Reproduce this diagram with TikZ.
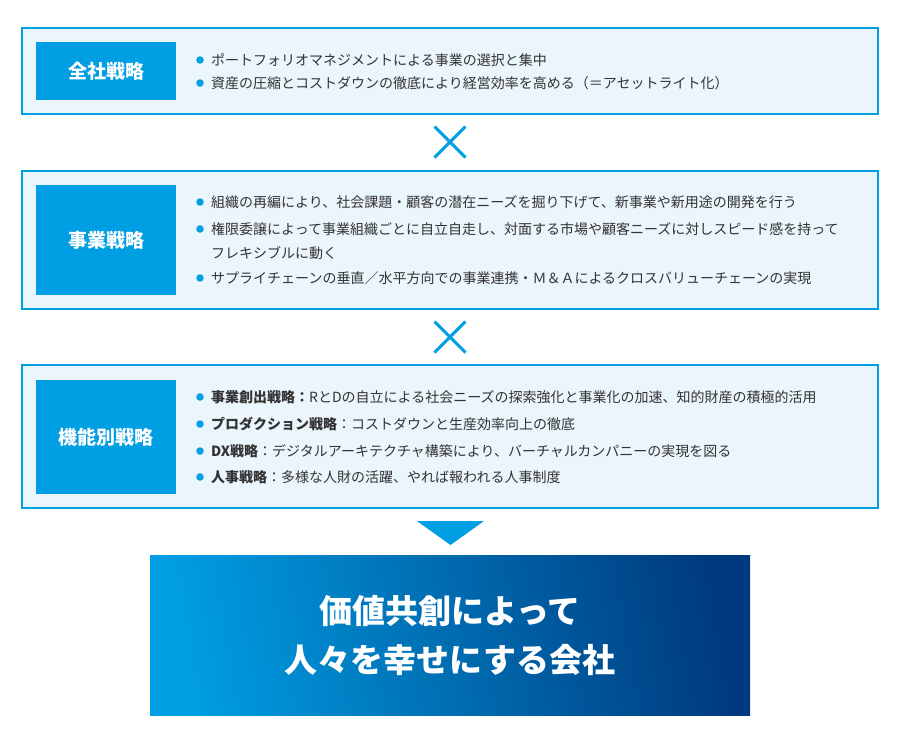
\documentclass[tikz,border=0pt]{standalone}
\usepackage{fontspec}
\setmainfont{Noto Sans CJK JP}
\usetikzlibrary{shapes.misc}
\definecolor{skyblue}{RGB}{0,158,227}
\definecolor{paleblue}{RGB}{235,245,252}
\definecolor{navyblue}{RGB}{0,58,126}
\definecolor{midblue}{RGB}{0,86,165}
\definecolor{textgray}{RGB}{51,51,51}

\begin{document}
\begin{tikzpicture}[x=1pt, y=-1pt,
  panel/.style={rectangle, draw=skyblue, fill=paleblue, line width=2pt, minimum width=856pt},
  tag/.style={rectangle, fill=skyblue, text=white, minimum width=140pt, font=\fontsize{19}{19}\selectfont\bfseries},
  item/.style={anchor=west, inner sep=0pt, text=textgray, font=\fontsize{14}{14}\selectfont},
  dot/.style={circle, fill=skyblue, inner sep=0pt, minimum size=7.5pt},
  times/.style={cross out, draw=skyblue, line width=3pt, inner sep=0pt, minimum size=28pt}]
  \useasboundingbox (0,0) rectangle (900,740);
  % Panels
  \node (b-1) [panel, minimum height=86pt] at (450,71) {};
  \node (b-2) [panel, minimum height=138pt] at (450,240) {};
  \node (b-3) [panel, minimum height=143pt] at (450,436.5) {};
  % Tags
  \node (t-1) [tag, minimum height=58pt] at (106,71) {全社戦略};
  \node (t-2) [tag, minimum height=110pt] at (106,240) {事業戦略};
  \node (t-3) [tag, minimum height=114pt] at (106,437) {機能別戦略};
  % Items
  \foreach \y/\txt in {60/ポートフォリオマネジメントによる事業の選択と集中,
      83/資産の圧縮とコストダウンの徹底により経営効率を高める（＝アセットライト化）,
      202/組織の再編により、社会課題・顧客の潜在ニーズを掘り下げて、新事業や新用途の開発を行う,
      229/権限委譲によって事業組織ごとに自立自走し、対面する市場や顧客ニーズに対しスピード感を持って,
      278/サプライチェーンの垂直／水平方向での事業連携・Ｍ＆Ａによるクロスバリューチェーンの実現,
      397/{\textbf{事業創出戦略：}RとDの自立による社会ニーズの探索強化と事業化の加速、知的財産の積極的活用},
      424/{\textbf{プロダクション戦略}：コストダウンと生産効率向上の徹底},
      451/{\textbf{DX戦略}：デジタルアーキテクチャ構築により、バーチャルカンパニーの実現を図る},
      477/{\textbf{人事戦略}：多様な人財の活躍、やれば報われる人事制度}}
  {
    \node (d-\y) [dot] at (200,\y) {};
    \node (i-\y) [item] at (211,\y) {\txt};
  }
  \node (i-253) [item] at (211,253) {フレキシブルに動く};
  % Times
  \node (x-1) [times] at (450,142) {};
  \node (x-2) [times] at (450,337) {};
  % Arrow
  \fill[skyblue] (417,521) -- (484,521) -- (450.5,545) -- cycle;
  % Goal
  \node (goal) [rectangle, minimum width=600pt, minimum height=160pt,
    left color=skyblue, middle color=midblue, right color=navyblue, shading angle=100] at (450,635) {};
  \node (g-txt) [align=center, text=white, font=\fontsize{33}{49}\selectfont\bfseries] at (goal.center) {価値共創によって\\人々を幸せにする会社};
\end{tikzpicture}
\end{document}
